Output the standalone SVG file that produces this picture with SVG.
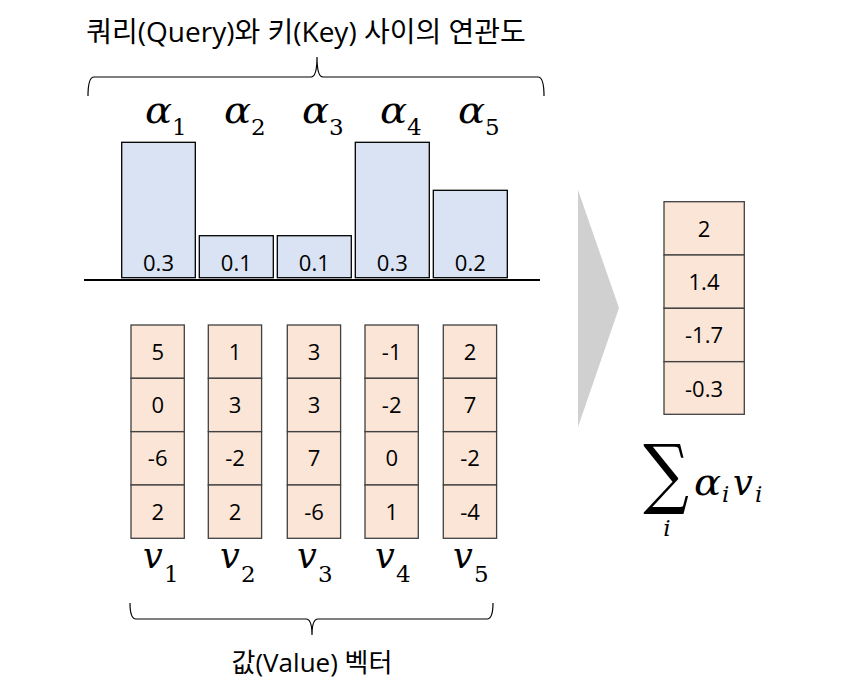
<svg xmlns="http://www.w3.org/2000/svg" width="842" height="691" viewBox="0 0 842 691">
<defs>
<style>
.t{font-family:"Open Sans","Noto Sans CJK KR",sans-serif;fill:#000;}
.num{font-family:"Open Sans","Noto Sans",sans-serif;font-size:22px;text-anchor:middle;fill:#000;}
.m{font-family:"DejaVu Serif",serif;font-style:italic;font-size:35px;fill:#000;}
.s{font-family:"DejaVu Serif",serif;font-style:normal;font-size:23px;fill:#000;}
.si{font-family:"DejaVu Serif",serif;font-style:italic;font-size:23px;fill:#000;}
.bar{fill:#DAE3F3;stroke:#000;stroke-width:1.3;}
.cell{fill:#FBE5D6;stroke:#404040;stroke-width:1.3;}
.brace{fill:none;stroke:#000;stroke-width:1.2;}
</style>
</defs>
<rect width="842" height="691" fill="#fff"/>

<g id="title">
<text class="t" x="306" y="42" font-size="28" text-anchor="middle">쿼리(Query)와 키(Key) 사이의 연관도</text>
</g>
<g id="connectors">
<path class="brace" d="M88,96 Q88,77 94,77 L311,77 Q317,77 317,57 Q317,77 323,77 L538,77 Q544,77 544,96"/>
<path class="brace" d="M130,603 Q130,619 136,619 L306,619 Q312,619 312,635 Q312,619 318,619 L487,619 Q493,619 493,603"/>
<line x1="84" y1="280" x2="540" y2="280" stroke="#000" stroke-width="2"/>
<polygon points="578,190 619,308 578,427" fill="#D0D0D0"/>
</g>

<g id="alphas">
<text class="m" x="145" y="123" transform="translate(-21.75,0) scale(1.15,1)">α</text><text class="s" x="172" y="135">1</text>
<text class="m" x="224" y="123" transform="translate(-33.6,0) scale(1.15,1)">α</text><text class="s" x="251" y="135">2</text>
<text class="m" x="302" y="123" transform="translate(-45.3,0) scale(1.15,1)">α</text><text class="s" x="329" y="135">3</text>
<text class="m" x="380" y="123" transform="translate(-57,0) scale(1.15,1)">α</text><text class="s" x="407" y="135">4</text>
<text class="m" x="458" y="123" transform="translate(-68.7,0) scale(1.15,1)">α</text><text class="s" x="485" y="135">5</text>
</g>

<g id="bar1"><rect class="bar" x="121.7" y="142.3" width="73.6" height="135.4"/><text class="num" x="158.5" y="271">0.3</text></g>
<g id="bar2"><rect class="bar" x="199.3" y="235.7" width="74" height="42"/><text class="num" x="236.3" y="271">0.1</text></g>
<g id="bar3"><rect class="bar" x="277.3" y="235.7" width="74" height="42"/><text class="num" x="314.3" y="271">0.1</text></g>
<g id="bar4"><rect class="bar" x="355.3" y="142.3" width="74" height="135.4"/><text class="num" x="392.3" y="271">0.3</text></g>
<g id="bar5"><rect class="bar" x="433.3" y="190.3" width="74" height="87.4"/><text class="num" x="470.3" y="271">0.2</text></g>

<g id="v1">
<rect class="cell" x="131" y="325" width="53.3" height="53.3"/><rect class="cell" x="131" y="378.3" width="53.3" height="53.3"/><rect class="cell" x="131" y="431.7" width="53.3" height="53.3"/><rect class="cell" x="131" y="485" width="53.3" height="53.3"/>
<text class="num" x="157.7" y="359.5">5</text><text class="num" x="157.7" y="412.8">0</text><text class="num" x="157.7" y="466.2">-6</text><text class="num" x="157.7" y="519.5">2</text>
</g>
<g id="v2">
<rect class="cell" x="208.3" y="325" width="53.3" height="53.3"/><rect class="cell" x="208.3" y="378.3" width="53.3" height="53.3"/><rect class="cell" x="208.3" y="431.7" width="53.3" height="53.3"/><rect class="cell" x="208.3" y="485" width="53.3" height="53.3"/>
<text class="num" x="235" y="359.5">1</text><text class="num" x="235" y="412.8">3</text><text class="num" x="235" y="466.2">-2</text><text class="num" x="235" y="519.5">2</text>
</g>
<g id="v3">
<rect class="cell" x="287.3" y="325" width="53.3" height="53.3"/><rect class="cell" x="287.3" y="378.3" width="53.3" height="53.3"/><rect class="cell" x="287.3" y="431.7" width="53.3" height="53.3"/><rect class="cell" x="287.3" y="485" width="53.3" height="53.3"/>
<text class="num" x="314" y="359.5">3</text><text class="num" x="314" y="412.8">3</text><text class="num" x="314" y="466.2">7</text><text class="num" x="314" y="519.5">-6</text>
</g>
<g id="v4">
<rect class="cell" x="365" y="325" width="53.3" height="53.3"/><rect class="cell" x="365" y="378.3" width="53.3" height="53.3"/><rect class="cell" x="365" y="431.7" width="53.3" height="53.3"/><rect class="cell" x="365" y="485" width="53.3" height="53.3"/>
<text class="num" x="391.7" y="359.5">-1</text><text class="num" x="391.7" y="412.8">-2</text><text class="num" x="391.7" y="466.2">0</text><text class="num" x="391.7" y="519.5">1</text>
</g>
<g id="v5">
<rect class="cell" x="443.3" y="325" width="53.3" height="53.3"/><rect class="cell" x="443.3" y="378.3" width="53.3" height="53.3"/><rect class="cell" x="443.3" y="431.7" width="53.3" height="53.3"/><rect class="cell" x="443.3" y="485" width="53.3" height="53.3"/>
<text class="num" x="470" y="359.5">2</text><text class="num" x="470" y="412.8">7</text><text class="num" x="470" y="466.2">-2</text><text class="num" x="470" y="519.5">-4</text>
</g>

<g id="vlabels">
<text class="m" x="143" y="568">v</text><text class="s" x="164" y="582">1</text>
<text class="m" x="220" y="568">v</text><text class="s" x="241" y="582">2</text>
<text class="m" x="297" y="568">v</text><text class="s" x="318" y="582">3</text>
<text class="m" x="375" y="568">v</text><text class="s" x="396" y="582">4</text>
<text class="m" x="453" y="568">v</text><text class="s" x="474" y="582">5</text>
</g>

<g id="value-label">
<text class="t" x="312" y="672" font-size="26" text-anchor="middle">값(Value) 벡터</text>
</g>

<g id="result">
<rect class="cell" x="664" y="201.7" width="80.3" height="53.3"/><rect class="cell" x="664" y="255" width="80.3" height="53.3"/><rect class="cell" x="664" y="308.3" width="80.3" height="53.3"/><rect class="cell" x="664" y="361.7" width="80.3" height="52.6"/>
<text class="num" x="704" y="236.5">2</text><text class="num" x="704" y="289.8">1.4</text><text class="num" x="704" y="343.2">-1.7</text><text class="num" x="704" y="396.5">-0.3</text>
</g>

<g id="sum">
<text transform="translate(666,499) scale(1,1.2)" font-family="'DejaVu Serif',serif" font-size="64" text-anchor="middle">∑</text>
<text class="si" x="667" y="536" text-anchor="middle">i</text>
<text class="m" x="694" y="495" transform="translate(-104.1,0) scale(1.15,1)">α</text><text class="si" x="722" y="502">i</text>
<text class="m" x="733" y="495">v</text><text class="si" x="755" y="502">i</text>
</g>
</svg>
